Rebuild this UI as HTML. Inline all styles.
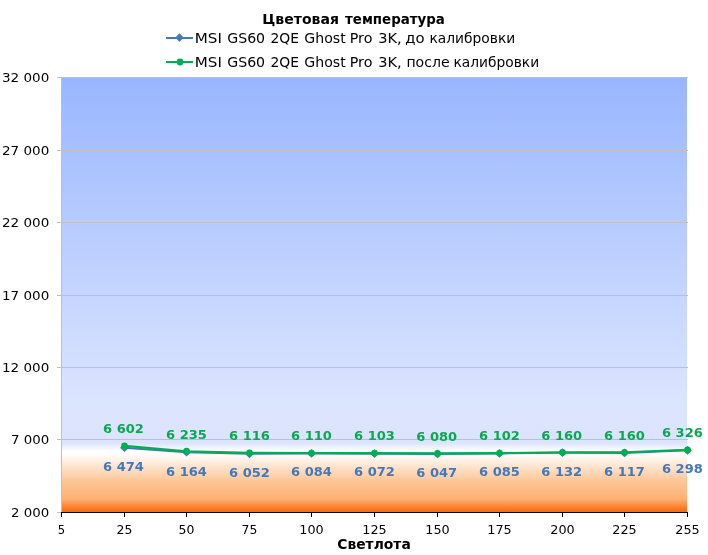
<!DOCTYPE html>
<html lang="ru"><head><meta charset="utf-8"><title>Цветовая температура</title>
<style>
html,body{margin:0;padding:0;background:#fff;}
body{width:708px;height:555px;overflow:hidden;font-family:"DejaVu Sans", "Liberation Sans", sans-serif;}
svg{display:block;}
text{font-family:"DejaVu Sans", "Liberation Sans", sans-serif;}
.t{font-weight:bold;font-size:13.33px;fill:#000;}
.lg{font-size:13.6px;fill:#000;}
.ax{font-size:12px;fill:#000;}
.dl{font-weight:bold;font-size:12.3px;}
</style></head><body>
<svg width="708" height="555" viewBox="0 0 708 555">
<defs><linearGradient id="bg" x1="0" y1="0" x2="0" y2="1">
<stop offset="0" stop-color="#99b6fe"/>
<stop offset="0.753" stop-color="#dce5fe"/>
<stop offset="0.841" stop-color="#dce4fd"/>
<stop offset="0.860" stop-color="#ffffff"/>
<stop offset="0.865" stop-color="#ffffff"/>
<stop offset="0.927" stop-color="#fdc799"/>
<stop offset="0.970" stop-color="#fcb172"/>
<stop offset="0.998" stop-color="#fc6a0d"/>
</linearGradient></defs>
<rect width="708" height="555" fill="#fff"/>
<rect x="62" y="78" width="625" height="434" fill="url(#bg)"/>

<line x1="57" x2="688" y1="77.5" y2="77.5" stroke="#c0c0c0" stroke-width="1"/>
<line x1="57" x2="688" y1="150.5" y2="150.5" stroke="#c0c0c0" stroke-width="1"/>
<line x1="57" x2="688" y1="222.5" y2="222.5" stroke="#c0c0c0" stroke-width="1"/>
<line x1="57" x2="688" y1="295.5" y2="295.5" stroke="#c0c0c0" stroke-width="1"/>
<line x1="57" x2="688" y1="367.5" y2="367.5" stroke="#c0c0c0" stroke-width="1"/>
<line x1="57" x2="688" y1="439.5" y2="439.5" stroke="#c0c0c0" stroke-width="1"/>
<line x1="57" x2="62" y1="512.5" y2="512.5" stroke="#c0c0c0" stroke-width="1"/>
<line x1="61.5" x2="61.5" y1="77" y2="513" stroke="#c0c0c0" stroke-width="1"/>
<line x1="61" x2="688" y1="512.5" y2="512.5" stroke="#000" stroke-width="1"/>
<line x1="61.5" x2="61.5" y1="512" y2="517" stroke="#000" stroke-width="1"/>
<line x1="124.5" x2="124.5" y1="512" y2="517" stroke="#000" stroke-width="1"/>
<line x1="186.5" x2="186.5" y1="512" y2="517" stroke="#000" stroke-width="1"/>
<line x1="249.5" x2="249.5" y1="512" y2="517" stroke="#000" stroke-width="1"/>
<line x1="311.5" x2="311.5" y1="512" y2="517" stroke="#000" stroke-width="1"/>
<line x1="374.5" x2="374.5" y1="512" y2="517" stroke="#000" stroke-width="1"/>
<line x1="437.5" x2="437.5" y1="512" y2="517" stroke="#000" stroke-width="1"/>
<line x1="499.5" x2="499.5" y1="512" y2="517" stroke="#000" stroke-width="1"/>
<line x1="562.5" x2="562.5" y1="512" y2="517" stroke="#000" stroke-width="1"/>
<line x1="624.5" x2="624.5" y1="512" y2="517" stroke="#000" stroke-width="1"/>
<line x1="687.5" x2="687.5" y1="512" y2="517" stroke="#000" stroke-width="1"/>
<text class="ax" x="49.3" y="81.8" text-anchor="end" textLength="47.3" lengthAdjust="spacingAndGlyphs">32 000</text>
<text class="ax" x="49.3" y="154.8" text-anchor="end" textLength="47.3" lengthAdjust="spacingAndGlyphs">27 000</text>
<text class="ax" x="49.3" y="226.8" text-anchor="end" textLength="47.3" lengthAdjust="spacingAndGlyphs">22 000</text>
<text class="ax" x="49.3" y="299.8" text-anchor="end" textLength="47.3" lengthAdjust="spacingAndGlyphs">17 000</text>
<text class="ax" x="49.3" y="371.8" text-anchor="end" textLength="47.3" lengthAdjust="spacingAndGlyphs">12 000</text>
<text class="ax" x="49.3" y="443.8" text-anchor="end" textLength="38.2" lengthAdjust="spacingAndGlyphs">7 000</text>
<text class="ax" x="49.3" y="516.8" text-anchor="end" textLength="38.2" lengthAdjust="spacingAndGlyphs">2 000</text>
<text class="ax" x="61.5" y="534" text-anchor="middle" textLength="7.4" lengthAdjust="spacingAndGlyphs">5</text>
<text class="ax" x="124.5" y="534" text-anchor="middle" textLength="15.8" lengthAdjust="spacingAndGlyphs">25</text>
<text class="ax" x="186.5" y="534" text-anchor="middle" textLength="15.8" lengthAdjust="spacingAndGlyphs">50</text>
<text class="ax" x="249.5" y="534" text-anchor="middle" textLength="15.8" lengthAdjust="spacingAndGlyphs">75</text>
<text class="ax" x="311.5" y="534" text-anchor="middle" textLength="24.4" lengthAdjust="spacingAndGlyphs">100</text>
<text class="ax" x="374.5" y="534" text-anchor="middle" textLength="24.4" lengthAdjust="spacingAndGlyphs">125</text>
<text class="ax" x="437.5" y="534" text-anchor="middle" textLength="24.4" lengthAdjust="spacingAndGlyphs">150</text>
<text class="ax" x="499.5" y="534" text-anchor="middle" textLength="24.4" lengthAdjust="spacingAndGlyphs">175</text>
<text class="ax" x="562.5" y="534" text-anchor="middle" textLength="24.4" lengthAdjust="spacingAndGlyphs">200</text>
<text class="ax" x="624.5" y="534" text-anchor="middle" textLength="24.4" lengthAdjust="spacingAndGlyphs">225</text>
<text class="ax" x="687.5" y="534" text-anchor="middle" textLength="24.4" lengthAdjust="spacingAndGlyphs">255</text>
<path d="M124.5,447.7 L186.5,452.2 L249.5,453.8 L311.5,453.4 L374.5,453.6 L437.5,453.9 L499.5,453.4 L562.5,452.7 L624.5,452.9 L687.5,450.3" fill="none" stroke="#4678ba" stroke-width="2.1" stroke-linejoin="round"/>
<path d="M124.5,443.3 L128.9,447.7 L124.5,452.1 L120.1,447.7 Z" fill="#4678ba"/>
<path d="M186.5,447.8 L190.9,452.2 L186.5,456.6 L182.1,452.2 Z" fill="#4678ba"/>
<path d="M249.5,449.4 L253.9,453.8 L249.5,458.2 L245.1,453.8 Z" fill="#4678ba"/>
<path d="M311.5,449.0 L315.9,453.4 L311.5,457.8 L307.1,453.4 Z" fill="#4678ba"/>
<path d="M374.5,449.2 L378.9,453.6 L374.5,458.0 L370.1,453.6 Z" fill="#4678ba"/>
<path d="M437.5,449.5 L441.9,453.9 L437.5,458.3 L433.1,453.9 Z" fill="#4678ba"/>
<path d="M499.5,449.0 L503.9,453.4 L499.5,457.8 L495.1,453.4 Z" fill="#4678ba"/>
<path d="M562.5,448.3 L566.9,452.7 L562.5,457.1 L558.1,452.7 Z" fill="#4678ba"/>
<path d="M624.5,448.5 L628.9,452.9 L624.5,457.3 L620.1,452.9 Z" fill="#4678ba"/>
<path d="M687.5,445.9 L691.9,450.3 L687.5,454.7 L683.1,450.3 Z" fill="#4678ba"/>
<path d="M124.5,445.9 L186.5,451.2 L249.5,452.9 L311.5,453.0 L374.5,453.1 L437.5,453.4 L499.5,453.1 L562.5,452.3 L624.5,452.3 L687.5,449.9" fill="none" stroke="#00b050" stroke-width="2.1" stroke-linejoin="round"/>
<circle cx="124.5" cy="445.9" r="3.35" fill="#00b050"/>
<circle cx="186.5" cy="451.2" r="3.35" fill="#00b050"/>
<circle cx="249.5" cy="452.9" r="3.35" fill="#00b050"/>
<circle cx="311.5" cy="453.0" r="3.35" fill="#00b050"/>
<circle cx="374.5" cy="453.1" r="3.35" fill="#00b050"/>
<circle cx="437.5" cy="453.4" r="3.35" fill="#00b050"/>
<circle cx="499.5" cy="453.1" r="3.35" fill="#00b050"/>
<circle cx="562.5" cy="452.3" r="3.35" fill="#00b050"/>
<circle cx="624.5" cy="452.3" r="3.35" fill="#00b050"/>
<circle cx="687.5" cy="449.9" r="3.35" fill="#00b050"/>
<text class="dl" fill="#0aa94f" x="123.5" y="433" text-anchor="middle" textLength="40.8" lengthAdjust="spacingAndGlyphs">6 602</text>
<text class="dl" fill="#4379bc" x="123.5" y="471" text-anchor="middle" textLength="40.8" lengthAdjust="spacingAndGlyphs">6 474</text>
<text class="dl" fill="#0aa94f" x="186.5" y="439" text-anchor="middle" textLength="40.8" lengthAdjust="spacingAndGlyphs">6 235</text>
<text class="dl" fill="#4379bc" x="186.5" y="476" text-anchor="middle" textLength="40.8" lengthAdjust="spacingAndGlyphs">6 164</text>
<text class="dl" fill="#0aa94f" x="249.5" y="440" text-anchor="middle" textLength="40.8" lengthAdjust="spacingAndGlyphs">6 116</text>
<text class="dl" fill="#4379bc" x="249.5" y="477" text-anchor="middle" textLength="40.8" lengthAdjust="spacingAndGlyphs">6 052</text>
<text class="dl" fill="#0aa94f" x="311.5" y="440" text-anchor="middle" textLength="40.8" lengthAdjust="spacingAndGlyphs">6 110</text>
<text class="dl" fill="#4379bc" x="311.5" y="476" text-anchor="middle" textLength="40.8" lengthAdjust="spacingAndGlyphs">6 084</text>
<text class="dl" fill="#0aa94f" x="374.5" y="440" text-anchor="middle" textLength="40.8" lengthAdjust="spacingAndGlyphs">6 103</text>
<text class="dl" fill="#4379bc" x="374.5" y="476" text-anchor="middle" textLength="40.8" lengthAdjust="spacingAndGlyphs">6 072</text>
<text class="dl" fill="#0aa94f" x="436.7" y="441" text-anchor="middle" textLength="40.8" lengthAdjust="spacingAndGlyphs">6 080</text>
<text class="dl" fill="#4379bc" x="436.7" y="477" text-anchor="middle" textLength="40.8" lengthAdjust="spacingAndGlyphs">6 047</text>
<text class="dl" fill="#0aa94f" x="499.5" y="440" text-anchor="middle" textLength="40.8" lengthAdjust="spacingAndGlyphs">6 102</text>
<text class="dl" fill="#4379bc" x="499.5" y="476" text-anchor="middle" textLength="40.8" lengthAdjust="spacingAndGlyphs">6 085</text>
<text class="dl" fill="#0aa94f" x="561.7" y="440" text-anchor="middle" textLength="40.8" lengthAdjust="spacingAndGlyphs">6 160</text>
<text class="dl" fill="#4379bc" x="561.7" y="476" text-anchor="middle" textLength="40.8" lengthAdjust="spacingAndGlyphs">6 132</text>
<text class="dl" fill="#0aa94f" x="624.5" y="440" text-anchor="middle" textLength="40.8" lengthAdjust="spacingAndGlyphs">6 160</text>
<text class="dl" fill="#4379bc" x="624.5" y="476" text-anchor="middle" textLength="40.8" lengthAdjust="spacingAndGlyphs">6 117</text>
<text class="dl" fill="#0aa94f" x="682.4" y="437" text-anchor="middle" textLength="40.8" lengthAdjust="spacingAndGlyphs">6 326</text>
<text class="dl" fill="#4379bc" x="682.4" y="473" text-anchor="middle" textLength="40.8" lengthAdjust="spacingAndGlyphs">6 298</text>
<text class="t" y="23.5"><tspan x="262.30" textLength="76.62" lengthAdjust="spacingAndGlyphs">Цветовая</tspan> <tspan x="345.10" textLength="99.78" lengthAdjust="spacingAndGlyphs">температура</tspan></text>
<line x1="166" x2="193" y1="38" y2="38" stroke="#4678ba" stroke-width="2"/>
<path d="M179.5,33.2 L183.6,37.6 L179.5,42 L175.4,37.6 Z" fill="#4678ba"/>
<text class="lg" y="43"><tspan x="194.78" textLength="27.11" lengthAdjust="spacingAndGlyphs">MSI</tspan> <tspan x="227.24" textLength="37.88" lengthAdjust="spacingAndGlyphs">GS60</tspan> <tspan x="270.43" textLength="28.51" lengthAdjust="spacingAndGlyphs">2QE</tspan> <tspan x="304.34" textLength="41.40" lengthAdjust="spacingAndGlyphs">Ghost</tspan> <tspan x="349.76" textLength="22.64" lengthAdjust="spacingAndGlyphs">Pro</tspan> <tspan x="378.19" textLength="23.53" lengthAdjust="spacingAndGlyphs">3K,</tspan> <tspan x="405.30" textLength="19.33" lengthAdjust="spacingAndGlyphs">до</tspan> <tspan x="429.52" textLength="85.68" lengthAdjust="spacingAndGlyphs">калибровки</tspan></text>
<line x1="166" x2="193" y1="62" y2="62" stroke="#00b050" stroke-width="2"/>
<circle cx="180" cy="62" r="3.4" fill="#00b050"/>
<text class="lg" y="67"><tspan x="194.78" textLength="27.11" lengthAdjust="spacingAndGlyphs">MSI</tspan> <tspan x="227.24" textLength="37.88" lengthAdjust="spacingAndGlyphs">GS60</tspan> <tspan x="270.43" textLength="28.51" lengthAdjust="spacingAndGlyphs">2QE</tspan> <tspan x="304.34" textLength="41.40" lengthAdjust="spacingAndGlyphs">Ghost</tspan> <tspan x="349.76" textLength="22.64" lengthAdjust="spacingAndGlyphs">Pro</tspan> <tspan x="378.19" textLength="23.53" lengthAdjust="spacingAndGlyphs">3K,</tspan> <tspan x="406.40" textLength="43.24" lengthAdjust="spacingAndGlyphs">после</tspan> <tspan x="453.52" textLength="85.58" lengthAdjust="spacingAndGlyphs">калибровки</tspan></text>
<text class="t" x="374" y="549" text-anchor="middle" textLength="73.5" lengthAdjust="spacingAndGlyphs">Светлота</text>
</svg></body></html>
